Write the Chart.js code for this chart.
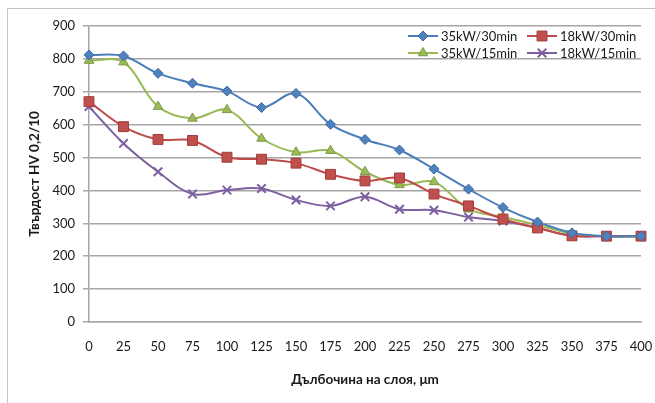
<!DOCTYPE html>
<html>
<head>
<meta charset="utf-8">
<script src="https://cdn.jsdelivr.net/npm/chart.js@4/dist/chart.umd.min.js"></script>
<style>
  html, body { margin: 0; padding: 0; background: #fff; }
  #wrap { position: relative; width: 655px; height: 403px; }
</style>
</head>
<body>
<div id="wrap"><canvas id="chart" width="655" height="403"></canvas></div>
<script>
// ====== DATA ======
const depths = ["0", "25", "50", "75", "100", "125", "150", "175", "200", "225", "250", "275", "300", "325", "350", "375", "400"];
const seriesNames = ["35kW/30min", "18kW/30min", "35kW/15min", "18kW/15min"];
const hv35_30 = [812, 809, 756, 726, 702, 652, 695, 601, 555, 523, 465, 404, 348, 304, 271, 261, 261];
const hv18_30 = [670, 594, 555, 552, 501, 495, 483, 449, 429, 438, 389, 353, 313, 286, 262, 261, 261];
const hv35_15 = [795, 790, 655, 619, 645, 558, 516, 521, 457, 417, 426, 343, 319, 295, 268, 260, 260];
const hv18_15 = [655, 543, 457, 389, 401, 406, 371, 353, 381, 343, 340, 319, 307, 286, 262, 261, 261];
const yTicks = [0, 100, 200, 300, 400, 500, 600, 700, 800, 900];

const FONT = "Lato, Carlito, 'Open Sans', sans-serif";
const TEXT = "#1a1a1a";
const GRID = "#a6a6a6";

// стил за всяка серия
const styles = [
  { line: "#4a7ebb", fill: "#4f81bd", border: "#3c6aa6", point: "rectRot", r: 5 },
  { line: "#be4b48", fill: "#c0504d", border: "#a03c3a", point: "rect", r: 7 },
  { line: "#98b954", fill: "#9bbb59", border: "#7c9a42", point: "triangle", r: 5.5 },
  { line: "#7d60a0", fill: "#8064a2", border: "#7d60a0", point: "crossRot", r: 6 },
];
const values = [hv35_30, hv18_30, hv35_15, hv18_15];

const datasets = values.map((v, i) => ({
  label: seriesNames[i],
  data: v,
  borderColor: styles[i].line,
  backgroundColor: styles[i].fill,
  borderWidth: 2,
  tension: 0.35,
  pointStyle: styles[i].point,
  pointRadius: styles[i].r,
  pointBackgroundColor: styles[i].fill,
  pointBorderColor: styles[i].border,
  pointBorderWidth: i === 3 ? 2 : 1,
}));

// рамка (само горе и вляво, както на картинката)
const framePlugin = {
  id: "frame",
  beforeDraw(chart) {
    const ctx = chart.ctx;
    ctx.save();
    ctx.strokeStyle = "#c4c4c4";
    ctx.lineWidth = 1;
    ctx.beginPath();
    ctx.moveTo(7.5, 403);
    ctx.lineTo(7.5, 8.5);
    ctx.lineTo(655, 8.5);
    ctx.stroke();
    ctx.restore();
  },
};

// легенда в две колони горе вдясно
const legendPlugin = {
  id: "twoColLegend",
  afterDraw(chart) {
    const ctx = chart.ctx;
    const cols = [408, 527];
    const rows = [36, 53];
    ctx.save();
    ctx.font = "13px " + FONT;
    ctx.textBaseline = "middle";
    ctx.textAlign = "left";
    chart.data.datasets.forEach((ds, i) => {
      const x = cols[i % 2];
      const y = rows[Math.floor(i / 2)];
      ctx.strokeStyle = ds.borderColor;
      ctx.lineWidth = 2;
      ctx.beginPath();
      ctx.moveTo(x, y);
      ctx.lineTo(x + 30, y);
      ctx.stroke();
      ctx.fillStyle = ds.pointBackgroundColor;
      ctx.strokeStyle = ds.pointBorderColor;
      ctx.lineWidth = ds.pointBorderWidth;
      Chart.helpers.drawPoint(ctx, { pointStyle: ds.pointStyle, radius: ds.pointRadius, rotation: 0, borderWidth: ds.pointBorderWidth }, x + 15, y);
      ctx.fillStyle = TEXT;
      ctx.fillText(ds.label, x + 33, y + 1);
    });
    ctx.restore();
  },
};

new Chart(document.getElementById("chart"), {
  type: "line",
  data: { labels: depths, datasets: datasets },
  plugins: [framePlugin, legendPlugin],
  options: {
    responsive: false,
    animation: false,
    layout: { padding: { left: 22, top: 26, right: 14, bottom: 0 } },
    plugins: {
      legend: { display: false },
      tooltip: { enabled: false },
    },
    scales: {
      x: {
        offset: false,
        grid: { display: false, drawTicks: false },
        border: { display: true, color: GRID, width: 1.5 },
        ticks: { color: TEXT, font: { family: FONT, size: 13 }, padding: 17, maxRotation: 0, autoSkip: false },
        title: {
          display: true,
          text: "Дълбочина на слоя, μm",
          color: TEXT,
          font: { family: FONT, size: 13.5, weight: "bold" },
          padding: { top: 0, bottom: 15 },
        },
        afterFit(scale) {
          scale.height = 81;
          scale.paddingLeft = 0;
          scale.paddingRight = 0;
        },
      },
      y: {
        min: 0,
        max: 900,
        afterBuildTicks(scale) { scale.ticks = yTicks.map((v) => ({ value: v })); },
        grid: { color: GRID, lineWidth: 1.5, tickLength: 6, drawTicks: true },
        border: { display: true, color: GRID, width: 1.5 },
        ticks: { color: TEXT, font: { family: FONT, size: 13 }, padding: 8 },
        title: {
          display: true,
          text: "Твърдост HV 0,2/10",
          color: TEXT,
          font: { family: FONT, size: 13.5, weight: "bold" },
          padding: { top: 5, bottom: 0 },
        },
        afterFit(scale) {
          scale.width = 89 - 22;
          scale.paddingTop = 0;
          scale.paddingBottom = 0;
        },
      },
    },
  },
});
</script>
</body>
</html>
